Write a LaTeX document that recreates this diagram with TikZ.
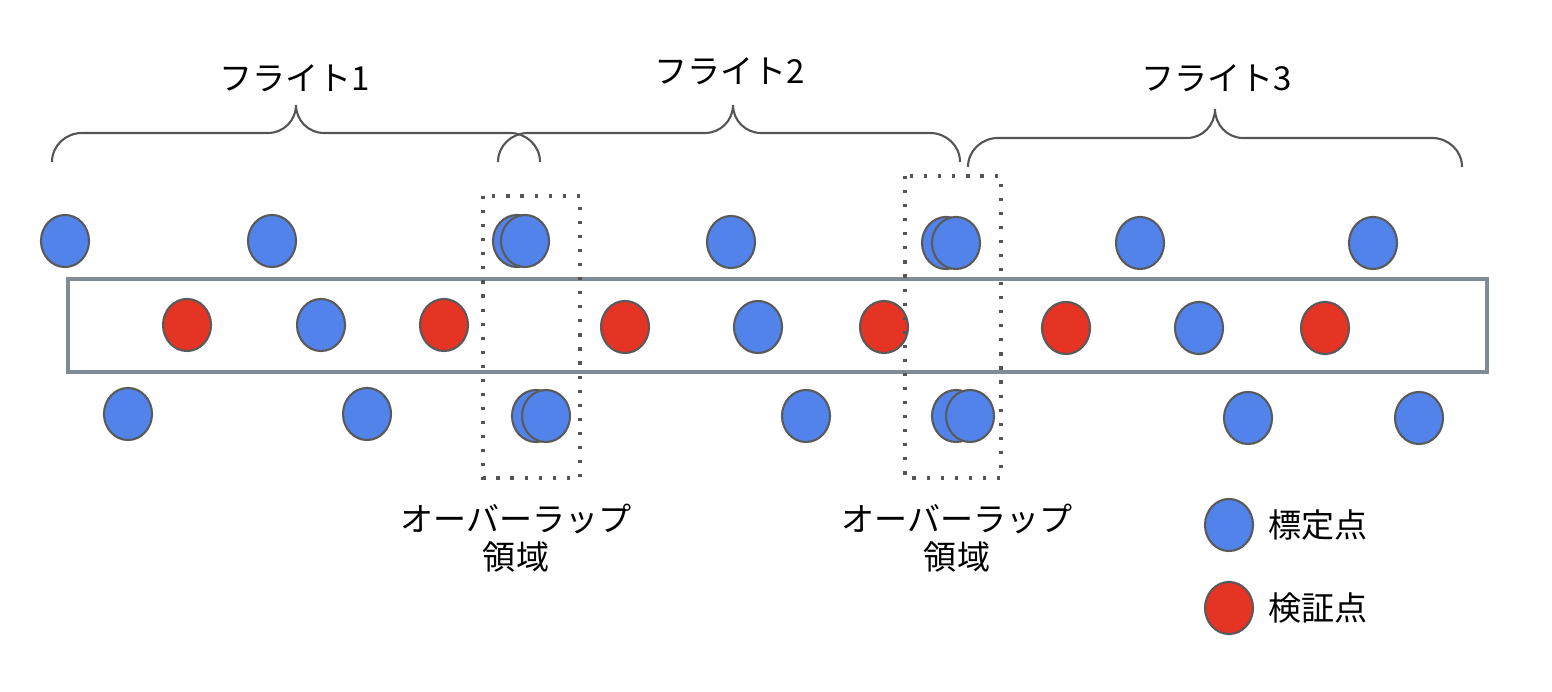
\documentclass[tikz,border=0pt]{standalone}
\usepackage{fontspec}
\newfontfamily\jpfont{Noto Sans CJK JP}
\usetikzlibrary{shapes.geometric,positioning}
\definecolor{ptblue}{RGB}{82,131,235}
\definecolor{ptred}{RGB}{229,51,36}
\definecolor{ptline}{RGB}{90,90,90}
\definecolor{brline}{RGB}{85,85,85}
\definecolor{stripline}{RGB}{127,140,150}

\begin{document}
\begin{tikzpicture}[
    x=0.01cm, y=-0.01cm,
    every node/.style={font=\jpfont\fontsize{9.4pt}{10.8pt}\selectfont},
    gcp/.style={ellipse, draw=ptline, fill=ptblue, line width=0.6pt,
                minimum width=4.8mm, minimum height=5.2mm, inner sep=0pt},
    chk/.style={gcp, fill=ptred},
    brc/.style={draw=brline, line width=0.6pt},
    ovl/.style={draw=brline, line width=0.9pt, dash pattern=on 0.9pt off 3.1pt},
    strip/.style={draw=stripline, line width=0.9pt},
    lbl/.style={align=center, inner sep=0pt},
  ]
  \useasboundingbox (0,0) rectangle (1552,692);
  % flight braces
  \draw[brc] (52,162) to[out=90,in=180] (82,133) -- (268,133)
    to[out=0,in=-90] (296,105) to[out=-90,in=180] (324,133)
    -- (510,133) to[out=0,in=90] (540,162);
  \draw[brc] (498,162) to[out=90,in=180] (528,133) -- (705,133)
    to[out=0,in=-90] (733,105) to[out=-90,in=180] (761,133)
    -- (930,133) to[out=0,in=90] (960,162);
  \draw[brc] (968,167) to[out=90,in=180] (998,138) -- (1187,138)
    to[out=0,in=-90] (1215,109) to[out=-90,in=180] (1243,138)
    -- (1432,138) to[out=0,in=90] (1462,167);
  \node[lbl] (fl1) at (295,78) {フライト1};
  \node[lbl] (fl2) at (730,71) {フライト2};
  \node[lbl] (fl3) at (1217,78) {フライト3};
  % strip of check points
  \draw[strip] (68,279) rectangle (1487,372);
  % upper row
  \node[gcp] (t1) at (65,241) {};
  \node[gcp] (t2) at (272,241) {};
  \node[gcp] (t3a) at (517,241) {};
  \node[gcp] (t3b) at (525,241) {};
  \node[gcp] (t4) at (731,242) {};
  \node[gcp] (t5a) at (946,243) {};
  \node[gcp] (t5b) at (956,243) {};
  \node[gcp] (t6) at (1140,243) {};
  \node[gcp] (t7) at (1373,243) {};
  % middle row
  \node[chk] (m1) at (187,325) {};
  \node[gcp] (m2) at (321,325) {};
  \node[chk] (m3) at (444,325) {};
  \node[chk] (m4) at (625,327) {};
  \node[gcp] (m5) at (758,327) {};
  \node[chk] (m6) at (884,327) {};
  \node[chk] (m7) at (1066,328) {};
  \node[gcp] (m8) at (1199,328) {};
  \node[chk] (m9) at (1325,328) {};
  % lower row
  \node[gcp] (b1) at (128,414) {};
  \node[gcp] (b2) at (367,414) {};
  \node[gcp] (b3a) at (536,416) {};
  \node[gcp] (b3b) at (546,416) {};
  \node[gcp] (b4) at (806,416) {};
  \node[gcp] (b5a) at (956,416) {};
  \node[gcp] (b5b) at (970,416) {};
  \node[gcp] (b6) at (1248,418) {};
  \node[gcp] (b7) at (1419,418) {};
  % overlap areas
  \draw[ovl] (483,196) rectangle (580,478);
  \draw[ovl] (905,176) rectangle (1001,478);
  \node[lbl] (ov1) at (516,538) {オーバーラップ\\領域};
  \node[lbl] (ov2) at (957,538) {オーバーラップ\\領域};
  % legend
  \node[gcp] (lg1) at (1229,525) {};
  \node[chk] (lg2) at (1229,608) {};
  \node[lbl, right=1.4mm of lg1] (lt1) {標定点};
  \node[lbl, right=1.4mm of lg2] (lt2) {検証点};
\end{tikzpicture}
\end{document}
